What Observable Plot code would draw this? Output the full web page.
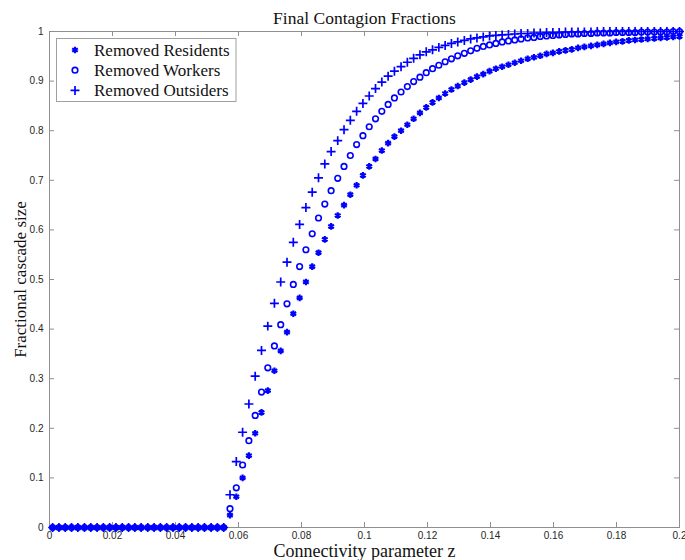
<!DOCTYPE html>
<html>
<head>
<meta charset="utf-8">
<script src="https://cdn.jsdelivr.net/npm/d3@7"></script>
<script src="https://cdn.jsdelivr.net/npm/@observablehq/plot@0.6"></script>
<style>
  html, body { margin: 0; padding: 0; background: #fff; }
  #chart { width: 685px; height: 560px; }
</style>
</head>
<body>
<div id="chart"></div>
<script>
const titleText = "Final Contagion Fractions";
const xLabelText = "Connectivity parameter z";
const yLabelText = "Fractional cascade size";
const seriesNames = ["Removed Residents", "Removed Workers", "Removed Outsiders"];

const xTicks = [0, 0.02, 0.04, 0.06, 0.08, 0.1, 0.12, 0.14, 0.16, 0.18, 0.2];
const xTickLabels = ["0", "0.02", "0.04", "0.06", "0.08", "0.1", "0.12", "0.14", "0.16", "0.18", "0.2"];
const yTicks = [0, 0.1, 0.2, 0.3, 0.4, 0.5, 0.6, 0.7, 0.8, 0.9, 1];
const yTickLabels = ["0", "0.1", "0.2", "0.3", "0.4", "0.5", "0.6", "0.7", "0.8", "0.9", "1"];

const zValues = [
  0.0010, 0.0030, 0.0050, 0.0070, 0.0090, 0.0111, 0.0131, 0.0151, 0.0171, 0.0191,
  0.0211, 0.0231, 0.0251, 0.0271, 0.0291, 0.0312, 0.0332, 0.0352, 0.0372, 0.0392,
  0.0412, 0.0432, 0.0452, 0.0472, 0.0492, 0.0513, 0.0533, 0.0553, 0.0573, 0.0593,
  0.0613, 0.0633, 0.0653, 0.0673, 0.0693, 0.0714, 0.0734, 0.0754, 0.0774, 0.0794,
  0.0814, 0.0834, 0.0854, 0.0874, 0.0894, 0.0915, 0.0935, 0.0955, 0.0975, 0.0995,
  0.1015, 0.1035, 0.1055, 0.1075, 0.1095, 0.1116, 0.1136, 0.1156, 0.1176, 0.1196,
  0.1216, 0.1236, 0.1256, 0.1276, 0.1296, 0.1317, 0.1337, 0.1357, 0.1377, 0.1397,
  0.1417, 0.1437, 0.1457, 0.1477, 0.1497, 0.1518, 0.1538, 0.1558, 0.1578, 0.1598,
  0.1618, 0.1638, 0.1658, 0.1678, 0.1698, 0.1719, 0.1739, 0.1759, 0.1779, 0.1799,
  0.1819, 0.1839, 0.1859, 0.1879, 0.1899, 0.1920, 0.1940, 0.1960, 0.1980, 0.2000
];

const residents = [
  0, 0, 0, 0, 0, 0, 0, 0, 0, 0,
  0, 0, 0, 0, 0, 0, 0, 0, 0, 0,
  0, 0, 0, 0, 0, 0, 0, 0,
  0.025, 0.062, 0.100, 0.145, 0.190, 0.232, 0.276, 0.316, 0.356, 0.394,
  0.431, 0.463, 0.495, 0.526, 0.554, 0.581, 0.607, 0.629, 0.650, 0.671,
  0.690, 0.710, 0.728, 0.743, 0.760, 0.775, 0.788, 0.800, 0.812, 0.824,
  0.836, 0.847, 0.857, 0.866, 0.875, 0.883, 0.890, 0.897, 0.903, 0.909,
  0.914, 0.920, 0.925, 0.929, 0.933, 0.937, 0.941, 0.945, 0.948, 0.951,
  0.955, 0.957, 0.960, 0.962, 0.964, 0.967, 0.969, 0.971, 0.973, 0.975,
  0.977, 0.979, 0.980, 0.982, 0.983, 0.984, 0.985, 0.986, 0.987, 0.988,
  0.989, 0.990
];

const workers = [
  0, 0, 0, 0, 0, 0, 0, 0, 0, 0,
  0, 0, 0, 0, 0, 0, 0, 0, 0, 0,
  0, 0, 0, 0, 0, 0, 0, 0,
  0.038, 0.080, 0.126, 0.175, 0.226, 0.273, 0.322, 0.366, 0.409, 0.451,
  0.490, 0.526, 0.560, 0.592, 0.624, 0.652, 0.679, 0.704, 0.728, 0.750,
  0.772, 0.790, 0.808, 0.824, 0.839, 0.853, 0.866, 0.878, 0.889, 0.899,
  0.908, 0.917, 0.925, 0.932, 0.939, 0.945, 0.951, 0.956, 0.961, 0.966,
  0.970, 0.973, 0.976, 0.979, 0.981, 0.983, 0.985, 0.987, 0.988, 0.990,
  0.991, 0.992, 0.993, 0.994, 0.995, 0.995, 0.996, 0.996, 0.997, 0.997,
  0.997, 0.998, 0.998, 0.998, 0.998, 0.999, 0.999, 0.999, 0.999, 0.999,
  1.000, 1.000
];

const outsiders = [
  0, 0, 0, 0, 0, 0, 0, 0, 0, 0,
  0, 0, 0, 0, 0, 0, 0, 0, 0, 0,
  0, 0, 0, 0, 0, 0, 0, 0,
  0.066, 0.133, 0.192, 0.249, 0.305, 0.357, 0.406, 0.452, 0.495, 0.535,
  0.575, 0.611, 0.645, 0.676, 0.705, 0.733, 0.758, 0.780, 0.802, 0.821,
  0.839, 0.855, 0.870, 0.885, 0.898, 0.910, 0.920, 0.929, 0.938, 0.946,
  0.953, 0.959, 0.963, 0.968, 0.972, 0.976, 0.979, 0.982, 0.985, 0.987,
  0.989, 0.991, 0.992, 0.993, 0.994, 0.995, 0.996, 0.996, 0.997, 0.997,
  0.998, 0.998, 0.998, 0.999, 0.999, 0.999, 0.999, 0.999, 1.000, 1.000,
  1.000, 1.000, 1.000, 1.000, 1.000, 1.000, 1.000, 1.000, 1.000, 1.000,
  1.000, 1.000
];

const blue = "#0000ff";
const axisGray = "#8f8f8f";
const serif = "'Liberation Serif', 'Times New Roman', serif";
const sans = "'Liberation Sans', Arial, Helvetica, sans-serif";

const W = 685, H = 560;
const mL = 49, mR = 6, mT = 31, mB = 33;
const frameW = W - mL - mR, frameH = H - mT - mB;
const tickLen = 5;

const markerStyles = [
  {symbol: "asterisk", r: 3.1, strokeWidth: 2.2},
  {symbol: "circle", r: 2.8, strokeWidth: 1.6},
  {symbol: "plus", r: 3.0, strokeWidth: 1.7}
];
const seriesValues = [residents, workers, outsiders];

const dotMarks = seriesValues.map((vals, s) =>
  Plot.dot(vals, {
    x: (d, i) => zValues[i],
    y: d => d,
    symbol: markerStyles[s].symbol,
    r: markerStyles[s].r,
    stroke: blue,
    strokeWidth: markerStyles[s].strokeWidth,
    fill: "none"
  })
);

const plot = Plot.plot({
  width: W,
  height: H,
  marginLeft: mL,
  marginRight: mR,
  marginTop: mT,
  marginBottom: mB,
  x: {domain: [0, 0.2]},
  y: {domain: [0, 1]},
  style: {background: "white", color: "#262626", fontFamily: sans, fontSize: "10px", overflow: "visible"},
  marks: [
    Plot.frame({stroke: axisGray, strokeWidth: 1}),
    Plot.ruleX(xTicks, {x: d => d, insetTop: frameH - tickLen, stroke: axisGray}),
    Plot.ruleX(xTicks, {x: d => d, insetBottom: frameH - tickLen, stroke: axisGray}),
    Plot.ruleY(yTicks, {y: d => d, insetRight: frameW - tickLen, stroke: axisGray}),
    Plot.ruleY(yTicks, {y: d => d, insetLeft: frameW - tickLen, stroke: axisGray}),
    Plot.axisX({ticks: xTicks, tickSize: 0, tickPadding: 4, label: null,
      tickFormat: d => xTickLabels[xTicks.indexOf(d)]}),
    Plot.axisY({ticks: yTicks, tickSize: 0, tickPadding: 6, label: null,
      tickFormat: d => yTickLabels[yTicks.indexOf(d)]}),
    ...dotMarks,
    Plot.text([titleText], {text: d => d, frameAnchor: "top", dy: -13, lineAnchor: "middle", textAnchor: "middle",
      fontFamily: serif, fontSize: 17.5, fill: "#111"}),
    Plot.text([xLabelText], {text: d => d, frameAnchor: "bottom", dy: 24, lineAnchor: "middle", textAnchor: "middle",
      fontFamily: serif, fontSize: 18, fill: "#111"}),
    Plot.text([yLabelText], {text: d => d, frameAnchor: "left", dx: -29, rotate: -90, lineAnchor: "middle", textAnchor: "middle",
      fontFamily: serif, fontSize: 17, fill: "#111"})
  ]
});

document.getElementById("chart").appendChild(plot);

// Legend (MATLAB-style box, upper left inside the axes)
const svg = d3.select(plot);
const lg = svg.append("g").attr("class", "legend");
const lx = 56.5, ly = 38.5, lw = 179.5, lh = 63;
lg.append("rect").attr("x", lx).attr("y", ly).attr("width", lw).attr("height", lh)
  .attr("fill", "white").attr("stroke", "#a0a0a0").attr("stroke-width", 1);
const symbolTypes = {asterisk: d3.symbolAsterisk, circle: d3.symbolCircle, plus: d3.symbolPlus};
seriesNames.forEach((name, i) => {
  const cy = ly + 11.5 + i * 20.2;
  const ms = markerStyles[i];
  lg.append("path")
    .attr("transform", `translate(${lx + 18.5},${cy})`)
    .attr("d", d3.symbol(symbolTypes[ms.symbol], Math.PI * ms.r * ms.r)())
    .attr("fill", "none").attr("stroke", blue).attr("stroke-width", ms.strokeWidth);
  lg.append("text")
    .attr("x", lx + 37.5).attr("y", cy).attr("dy", "0.35em")
    .attr("text-anchor", "start")
    .attr("font-family", serif).attr("font-size", 17).attr("fill", "#111")
    .text(name);
});
</script>
</body>
</html>
